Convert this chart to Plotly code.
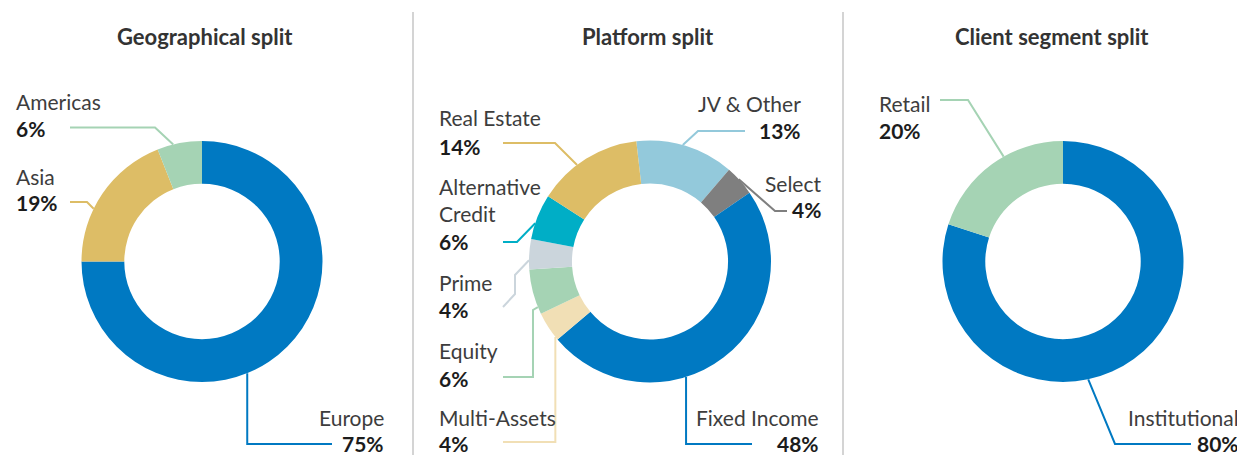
import math
import plotly.graph_objects as go

# The page body has an 8px default margin, so the figure is drawn 8px in
# from the window edge; all layout positions below are window pixels.
WIN_W, WIN_H = 1245, 455
OFF = 8
W, H = WIN_W - OFF, WIN_H - OFF

# ---------------- data ----------------
geo_labels = ["Europe", "Asia", "Americas"]
geo_values = [75, 19, 6]

platform_labels = ["JV & Other", "Select", "Fixed Income", "Multi-Assets",
                   "Equity", "Prime", "Alternative Credit", "Real Estate"]
platform_values = [13, 4, 48, 4, 6, 4, 6, 14]

client_labels = ["Institutional", "Retail"]
client_values = [80, 20]

titles = ["Geographical split", "Platform split", "Client segment split"]

# ---------------- style ----------------
BLUE = "#0079C2"
GOLD = "#DDBD66"
GREEN = "#A5D3B4"
LBLUE = "#93C9DB"
GRAY = "#7F7F7F"
CREAM = "#F1DFB5"
PRIME = "#CBD5DC"
TEAL = "#00AEC6"

geo_colors = [BLUE, GOLD, GREEN]
platform_colors = [LBLUE, GRAY, BLUE, CREAM, GREEN, PRIME, TEAL, GOLD]
client_colors = [BLUE, GREEN]

FONT = "Lato"
NAME_COLOR = "#3d3d3d"
PCT_COLOR = "#1c1c1c"
FS = 21
TITLE_FS = 22

# chart geometry (window pixels): centre x, centre y, outer radius, rotation
charts = [
    dict(labels=geo_labels, values=geo_values, colors=geo_colors,
         cx=202, cy=261.5, r=120.5, rot=0, title_x=205),
    dict(labels=platform_labels, values=platform_values, colors=platform_colors,
         cx=650, cy=261.5, r=121, rot=-6.5, title_x=648),
    dict(labels=client_labels, values=client_values, colors=client_colors,
         cx=1063, cy=261.5, r=120.5, rot=0, title_x=1052),
]

# label layout: side, text x, line y's, leader route (label end -> corners), anchor fraction in slice
# None for a corner x means "same x as the anchor point" (vertical segment)
label_layout = [
    {
        "Europe": dict(side="right", x=385, ys=[417, 443], route=[(332, 444), (None, 444)], frac=0.585),
        "Asia": dict(side="left", x=15, ys=[176, 203], route=[(70, 202), (87, 202)], frac=0.38),
        "Americas": dict(side="left", x=15, ys=[101, 128], route=[(70, 127.5), (155, 127.5)], frac=0.36),
    },
    {
        "JV & Other": dict(side="right", x=802, ys=[103, 130], route=[(745, 131), (698, 131)], frac=0.47),
        "Select": dict(side="right", x=822, ys=[183, 210], route=[(787, 211), (775, 211)], frac=0.44),
        "Fixed Income": dict(side="right", x=820, ys=[417, 443], route=[(752, 444), (None, 444)], frac=0.615),
        "Multi-Assets": dict(side="left", x=438, ys=[417, 443], route=[(503, 442), (None, 442)], frac=0.11),
        "Equity": dict(side="left", x=438, ys=[350, 378], route=[(503, 377), (533, 377), (533, 310)], frac=0.16),
        "Prime": dict(side="left", x=438, ys=[282, 309], route=[(503, 307), (515, 294), (515, 275)], frac=0.3),
        "Alternative Credit": dict(side="left", x=438, ys=[186, 213, 241], route=[(503, 242), (517, 242)], frac=0.35,
                                   lines=["Alternative", "Credit"]),
        "Real Estate": dict(side="left", x=438, ys=[118, 146], route=[(503, 143), (555, 143)], frac=0.4),
    },
    {
        "Institutional": dict(side="right", x=1240, ys=[417, 443], route=[(1191, 444), (1115, 444)], frac=0.583),
        "Retail": dict(side="left", x=878, ys=[103, 130], route=[(940, 100), (968, 100)], frac=0.59),
    },
]


def px(x):
    return (x - OFF) / W


def py(y):
    return 1 - (y - OFF) / H


fig = go.Figure()
shapes = []
annotations = []

for idx, (ch, lay) in enumerate(zip(charts, label_layout)):
    cx, cy, r = ch["cx"], ch["cy"], ch["r"]
    fig.add_trace(go.Pie(
        labels=ch["labels"], values=ch["values"],
        marker=dict(colors=ch["colors"], line=dict(width=0)),
        hole=0.645, sort=False, direction="clockwise", rotation=ch["rot"],
        textinfo="none", hoverinfo="label+percent", showlegend=False,
        domain=dict(x=[px(cx - r), px(cx + r)], y=[py(cy + r), py(cy - r)]),
    ))
    total = sum(ch["values"])
    cum = 0
    for lab, val, col in zip(ch["labels"], ch["values"], ch["colors"]):
        spec = lay[lab]
        ang = math.radians(ch["rot"] + (cum + spec["frac"] * val) / total * 360)
        cum += val
        ax = cx + r * math.sin(ang)
        ay = cy - r * math.cos(ang)
        pts = [((ax if x is None else x), y) for x, y in spec["route"]] + [(ax, ay)]
        path = "M " + " L ".join(f"{px(x):.5f},{py(y):.5f}" for x, y in pts)
        shapes.append(dict(type="path", xref="paper", yref="paper", path=path,
                           line=dict(color=col, width=2)))
        name_lines = spec.get("lines", [lab])
        texts = [(t, False) for t in name_lines] + [(f"{val}%", True)]
        for (t, bold), yy in zip(texts, spec["ys"]):
            annotations.append(dict(
                x=px(spec["x"]), y=py(yy), xref="paper", yref="paper",
                text=f"<b>{t}</b>" if bold else t, showarrow=False,
                xanchor=spec["side"], yanchor="middle", borderpad=0,
                font=dict(family=FONT, size=FS, color=PCT_COLOR if bold else NAME_COLOR),
            ))
    annotations.append(dict(
        x=px(ch["title_x"]), y=py(37), xref="paper", yref="paper",
        text=f"<b>{titles[idx]}</b>", showarrow=False,
        xanchor="center", yanchor="middle",
        font=dict(family=FONT, size=TITLE_FS, color="#333333"),
    ))

# vertical separators
for sx in (413, 843):
    shapes.append(dict(type="line", xref="paper", yref="paper",
                       x0=px(sx), x1=px(sx), y0=py(12), y1=py(WIN_H),
                       line=dict(color="#d4d4d4", width=2)))

fig.update_layout(
    width=W, height=H, autosize=False,
    margin=dict(l=0, r=0, t=0, b=0),
    paper_bgcolor="white", plot_bgcolor="white",
    shapes=shapes, annotations=annotations,
)

fig.write_html("out.html")
